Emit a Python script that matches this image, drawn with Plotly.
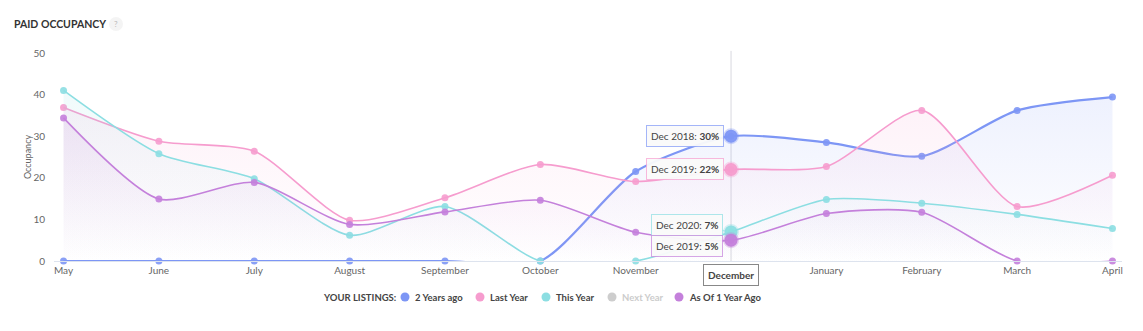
import plotly.graph_objects as go

months = ["May", "June", "July", "August", "September", "October", "November",
          "December", "January", "February", "March", "April"]
two_years_ago = [0, 0, 0, 0, 0, 0, 21.5, 30, 28.5, 25.2, 36.2, 39.4]
last_year = [36.9, 28.8, 26.4, 9.8, 15.2, 23.2, 19.1, 22, 22.7, 36.2, 13.1, 20.6]
this_year = [41, 25.8, 19.8, 6.2, 13.1, 0, 0, 7, 14.8, 13.9, 11.2, 7.8]
as_of_1y = [34.4, 14.9, 18.9, 8.8, 11.8, 14.6, 6.9, 5, 11.4, 11.7, 0, 0]

series = [
    ("2 Years ago", two_years_ago, (125, 150, 245), 2.2),
    ("Last Year", last_year, (246, 156, 206), 1.6),
    ("This Year", this_year, (140, 222, 226), 1.6),
    ("As Of 1 Year Ago", as_of_1y, (196, 128, 219), 1.6),
]
tips = [("Dec 2018: ", "30%"), ("Dec 2019: ", "22%"), ("Dec 2020: ", "7%"), ("Dec 2019: ", "5%")]
legend_items = [("2 Years ago", (125, 150, 245), "#444"), ("Last Year", (246, 156, 206), "#444"),
                ("This Year", (140, 222, 226), "#444"), ("Next Year", (205, 205, 205), "#ccc"),
                ("As Of 1 Year Ago", (196, 128, 219), "#444")]

FONT = "Lato"
W, H = 1143, 331
ML, MR, MT, MB = 54, 21, 53, 70
PW, PH = W - ML - MR, H - MT - MB


def px(x):
    return (x - ML) / PW


def py(y):
    return (H - MB - y) / PH


xs = list(range(len(months)))
hl = months.index("December")

fig = go.Figure()
for name, vals, (r, g, b), w in series:
    fig.add_trace(go.Scatter(
        x=xs, y=vals, mode="lines+markers", name=name, showlegend=False, cliponaxis=False,
        line=dict(color=f"rgb({r},{g},{b})", width=w, shape="spline", smoothing=0.7),
        marker=dict(size=7, color=f"rgba({r},{g},{b},0.9)"),
        fill="tozeroy",
        fillgradient=dict(type="vertical", colorscale=[[0, f"rgba({r},{g},{b},0)"],
                                                       [1, f"rgba({r},{g},{b},0.13)"]]),
        fillcolor=f"rgba({r},{g},{b},0.05)",
        hoverinfo="skip",
    ))

# vertical hover line
fig.add_shape(type="line", xref="x", yref="paper", x0=hl, x1=hl, y0=0, y1=1.01,
              line=dict(color="rgba(200,200,210,0.7)", width=1), layer="below")

# December highlighted markers
for name, vals, (r, g, b), w in series:
    fig.add_trace(go.Scatter(
        x=[xs[hl]], y=[vals[hl]], mode="markers", showlegend=False, cliponaxis=False,
        marker=dict(size=13, color=f"rgba({r},{g},{b},0.95)",
                    line=dict(color=f"rgba({r},{g},{b},0.35)", width=3)),
        hoverinfo="skip",
    ))

# tooltips
offsets = [0, 0, -7, 6]
axs = [-46, -46, -44, -44]
for (name, vals, (r, g, b), w), (lab, val), off, ax in zip(series, tips, offsets, axs):
    fig.add_annotation(
        x=hl, y=vals[hl], xref="x", yref="y", showarrow=True, arrowhead=0,
        arrowcolor=f"rgba({r},{g},{b},0.7)", arrowwidth=1, standoff=5,
        ax=ax, ay=off, axref="pixel", ayref="pixel",
        text=f"{lab}<b>{val}</b>",
        font=dict(family=FONT, size=10, color="#444"),
        bgcolor="rgba(250,250,250,0.95)", bordercolor=f"rgba({r},{g},{b},0.7)",
        borderwidth=1, borderpad=4,
    )

# December boxed axis label
fig.add_annotation(x=hl, y=0, xref="x", yref="paper", yanchor="top", yshift=-3,
                   showarrow=False, text="<b>December</b>",
                   font=dict(family=FONT, size=10, color="#444"),
                   bgcolor="white", bordercolor="#888", borderwidth=1, borderpad=4)

# title
fig.add_annotation(x=px(12), y=py(24), xref="paper", yref="paper", showarrow=False,
                   text="<b>PAID OCCUPANCY</b>", font=dict(family=FONT, size=10.5, color="#333"),
                   xanchor="left", yanchor="middle")
fig.add_shape(type="circle", xref="paper", yref="paper", xsizemode="pixel", ysizemode="pixel",
              xanchor=px(116), yanchor=py(24), x0=-7, x1=7, y0=-7, y1=7,
              fillcolor="#f4f4f4", line=dict(width=0))
fig.add_annotation(x=px(116), y=py(24), xref="paper", yref="paper", showarrow=False,
                   text="?", font=dict(family=FONT, size=8, color="#bbb"),
                   xanchor="center", yanchor="middle")

# custom legend
fig.add_annotation(x=px(321), y=py(297), xref="paper", yref="paper", showarrow=False,
                   text="<b>YOUR LISTINGS:</b>", font=dict(family=FONT, size=9.5, color="#444"),
                   xanchor="left", yanchor="middle")
circle_x = [405, 480, 546, 612, 679]
for (name, (r, g, b), tc), cx in zip(legend_items, circle_x):
    fig.add_shape(type="circle", xref="paper", yref="paper", xsizemode="pixel", ysizemode="pixel",
                  xanchor=px(cx), yanchor=py(297), x0=-4.5, x1=4.5, y0=-4.5, y1=4.5,
                  fillcolor=f"rgb({r},{g},{b})", line=dict(width=0))
    fig.add_annotation(x=px(cx + 8), y=py(297), xref="paper", yref="paper", showarrow=False,
                       text=f"<b>{name}</b>", font=dict(family=FONT, size=9.5, color=tc),
                       xanchor="left", yanchor="middle")

ticktext = [m if i != hl else "" for i, m in enumerate(months)]
fig.update_layout(
    width=W, height=H,
    margin=dict(l=ML, r=MR, t=MT, b=MB),
    paper_bgcolor="white", plot_bgcolor="white",
    font=dict(family=FONT, color="#666"),
    showlegend=False,
    xaxis=dict(range=[-0.1, 11.1], tickmode="array", tickvals=xs, ticktext=ticktext,
               showgrid=False, zeroline=False, showline=True, linecolor="#dde3ee", linewidth=1,
               ticks="", tickfont=dict(family=FONT, size=10, color="#666")),
    yaxis=dict(range=[0, 50], tickvals=[0, 10, 20, 30, 40, 50], showgrid=False, zeroline=False,
               showline=False, ticks="", ticklabelstandoff=8,
               tickfont=dict(family=FONT, size=10, color="#666"),
               title=dict(text="Occupancy", font=dict(family=FONT, size=9, color="#666"), standoff=0)),
    hovermode=False,
)
fig.write_html("out.html")
